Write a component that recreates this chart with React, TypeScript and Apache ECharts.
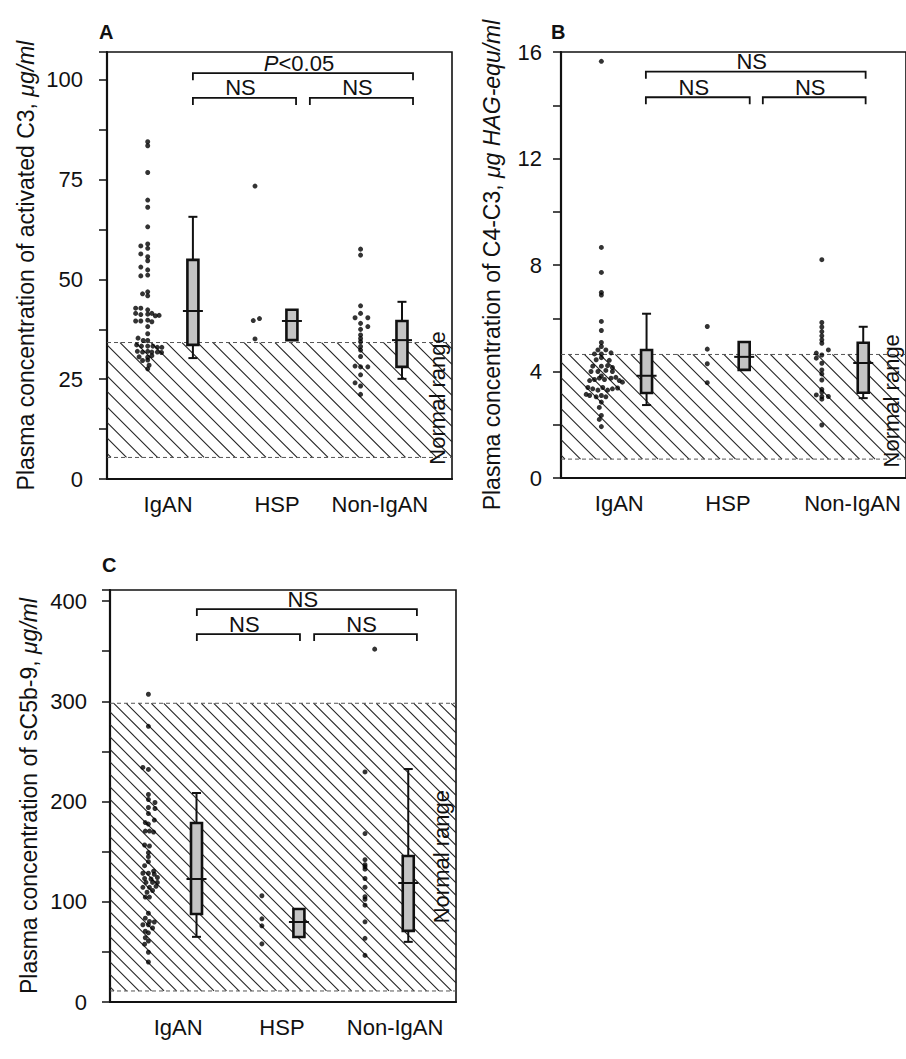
import React, { useEffect, useRef } from "react";
import * as echarts from "echarts";

const FONT = "'Liberation Sans', Arial, Helvetica, sans-serif";
const INK = "#111111";

const groups = ["IgAN", "HSP", "Non-IgAN"];

// ---------- Panel A : activated C3 (µg/ml) ----------
const aDotX = [11.8, 42.9, 73.5];
const aBoxX = [24.9, 53.6, 85.5];
const aLabelX = [17.7, 49.3, 79.1];
const aYLabels = [0, 25, 50, 75, 100];
// [jitter, value]
const aIgAN = [
  [0, 84.5], [0, 83.5], [0, 76.8], [0, 69.9], [0, 68.1], [0, 63.2],
  [-2, 58.4], [0, 58.9], [0, 57.8], [-2, 56.4], [0, 55.7], [0, 54.7],
  [-2, 53.1], [0, 52.4], [0, 51.1], [-2, 50.9],
  [-1.5, 46.4], [0, 46.9], [0, 45.9],
  [-3.5, 42.8], [-2, 42.8], [0, 42.4], [-3.5, 41.5], [-2, 41.2], [0, 41.3], [1.2, 41.5], [2.2, 40.9], [3.3, 41],
  [-3.5, 39.6], [-2, 39.6], [0, 39.8], [1.2, 39.4], [0, 38.2], [0, 36.4],
  [-2.8, 35.3], [-1.3, 34.7], [0, 34.7],
  [-3.2, 33.6], [-1.8, 33.3], [0, 33.3], [1.5, 33.3], [2.8, 33], [4.1, 33],
  [-3, 32], [-1.5, 31.8], [0, 32], [1.2, 31.8], [2.8, 31.8], [4, 31.7],
  [-2.5, 30.6], [0, 30.5], [1.2, 30.9], [-1.5, 29.7], [0, 29.8], [0.4, 28.5], [0, 27.6],
];
const aHSP = [[0, 73.4], [-0.5, 39.7], [1.3, 40.2], [0, 35.1]];
const aNon = [
  [0, 57.6], [0, 56.1], [0, 43.4], [0, 41.5], [-1.6, 40.4], [2.1, 40.4], [0, 39], [2.1, 38.2],
  [0, 37.5], [0, 36.1], [0, 35.2], [0, 34.4], [0, 33.2], [0, 32.3], [0, 30.7], [-1.6, 28.3],
  [0, 28.1], [2.1, 28.1], [0, 26.1], [-1.6, 24.1], [0, 23.3], [0, 21.2],
];
// [low, q1, median, q3, high]
const aBoxes = [
  [30.3, 33.6, 42.1, 54.9, 65.7],
  [34.8, 34.8, 39.6, 42.4, 42.4],
  [25.1, 28.1, 34.8, 39.6, 44.4],
];
const aNormal = [5.4, 34.2, 20.3];
const aBrackets = [[24.9, 54.8, 95.5], [58.8, 88.7, 95.5], [24.9, 88.7, 101.7]];
const aBracketLabels = ["NS", "NS", "{i|P}<0.05"];

// ---------- Panel B : C4-C3 (µg HAG-equ/ml) ----------
const bDotX = [11.7, 42.4, 75.6];
const bBoxX = [24.8, 53.1, 87.6];
const bLabelX = [16.9, 48.4, 84.5];
const bYLabels = [0, 4, 8, 12, 16];
const bIgAN = [
  [0, 15.65], [0, 8.66], [0, 7.72], [0, 6.97], [0, 6.87], [0, 5.88], [0, 5.54], [0, 5.09], [0, 4.94],
  [-1, 4.81], [1.3, 4.81], [-2, 4.66], [0, 4.66], [2.8, 4.7], [0, 4.52], [-1.5, 4.44], [2.3, 4.42],
  [-2.5, 4.2], [0, 4.2], [1.8, 4.22], [3.2, 4.15],
  [-3, 4.0], [-1, 4.0], [1.3, 4.04], [3.2, 4.0], [0, 3.83],
  [-3.4, 3.66], [-2, 3.7], [-0.6, 3.75], [0.9, 3.7], [2.8, 3.75], [4.2, 3.78], [5.2, 3.66], [6.1, 3.6],
  [-3.9, 3.4], [-2.5, 3.35], [-1, 3.3], [0.4, 3.4], [1.8, 3.3], [3.2, 3.35], [4.7, 3.38],
  [-4.4, 3.14], [-3.4, 3.1], [-1.5, 3.05], [0, 3.1], [1.3, 3.05],
  [0, 2.85], [-0.6, 2.65], [0, 2.35], [-0.6, 2.2], [0, 1.93],
];
const bHSP = [[0, 5.69], [0, 4.84], [0, 4.29], [0, 3.58]];
const bNon = [
  [0, 8.2], [0, 5.84], [0, 5.67], [0, 5.5], [0, 5.34], [0, 5.19], [0, 5.06], [1.9, 4.81],
  [-1.6, 4.69], [0, 4.62], [-1.6, 4.5], [0, 4.31], [0, 4.06], [0, 3.91], [0, 3.68], [0, 3.33],
  [0, 3.23], [-1.6, 3.12], [0, 3.06], [1.9, 3.06], [0, 2.96], [0, 1.99],
];
const bBoxes = [
  [2.74, 3.19, 3.84, 4.81, 6.17],
  [4.06, 4.06, 4.55, 5.11, 5.11],
  [3.0, 3.2, 4.32, 5.08, 5.68],
];
const bNormal = [0.71, 4.64, 2.9];
const bBrackets = [[24.6, 54.7, 14.3], [58.5, 88.3, 14.3], [24.6, 88.3, 15.26]];
const bBracketLabels = ["NS", "NS", "NS"];

// ---------- Panel C : sC5b-9 (µg/ml) ----------
const cDotX = [11.1, 43.9, 73.7];
const cBoxX = [25.0, 54.6, 86.2];
const cLabelX = [19.7, 49.7, 82.4];
const cYLabels = [0, 100, 200, 300, 400];
const cIgAN = [
  [0, 307], [0, 275], [-1.6, 234], [0, 232], [0, 207], [0, 202], [1.9, 199], [1.9, 193], [0, 194],
  [0, 188], [1.7, 181.5], [-0.9, 179], [0, 177.5], [-0.9, 170.5], [0.3, 170.5], [1.5, 169.5],
  [-1.1, 156.6], [0.3, 155.6], [0, 149], [0, 145], [0, 140], [-1.1, 136], [1.5, 130.6],
  [-1.6, 128.4], [0, 128.4], [1.7, 127.4], [-1.1, 123.2], [0.75, 122.7], [2.6, 124.2],
  [-0.7, 119.3], [1.2, 119.3], [2.6, 119.3], [-1.6, 114.4], [0.3, 114.4], [2.2, 115.4],
  [-0.4, 109.5], [1.2, 111.2], [-0.9, 104.7], [0.3, 104.7], [0, 88.5], [-0.9, 83.6],
  [0.3, 80.4], [1.7, 79.8], [-1.6, 77.1], [0, 77.1], [1.2, 73.8], [-0.9, 70.6], [0, 69],
  [-0.9, 64.1], [0, 60.8], [-1.1, 57.7], [0, 49.6], [0, 39.9],
];
const cHSP = [[0, 106], [0, 83], [0, 76], [0, 58]];
const cNon = [
  [2.8, 352], [0, 229.5], [0, 168], [0, 142], [0, 137], [0, 135], [0, 132.5], [0, 123.2],
  [0, 114.5], [0, 105], [0, 102.5], [0, 96.6], [0, 80], [0, 63.5], [0, 46.5],
];
const cBoxes = [
  [65, 87.8, 122.7, 178.5, 208.5],
  [64.8, 64.8, 79.8, 92.8, 92.8],
  [60, 71, 118.7, 145.6, 232.4],
];
const cNormal = [11, 298, 145];
const cBrackets = [[25.1, 54.9, 367], [59.0, 88.7, 367], [25.1, 88.7, 392]];
const cBracketLabels = ["NS", "NS", "NS"];

const panels = [
  {
    letter: "A", grid: { left: 107, top: 52, width: 345, height: 427 },
    yMax: 107, yInterval: 12.5, yLabels: aYLabels, labelMargin: 24, nameGap: 70,
    title: "Plasma concentration of activated C3, ", unit: "μg/ml",
    dotX: aDotX, boxX: aBoxX, labelX: aLabelX, dots: [aIgAN, aHSP, aNon], boxes: aBoxes,
    normal: aNormal, brackets: aBrackets, bracketLabels: aBracketLabels, hatchGap: 15.5,
    letterPos: [99, 22],
  },
  {
    letter: "B", grid: { left: 561, top: 52, width: 349, height: 426 },
    yMax: 16, yInterval: 2, yLabels: bYLabels, labelMargin: 19, nameGap: 58,
    title: "Plasma concentration of C4-C3, ", unit: "μg HAG-equ/ml",
    dotX: bDotX, boxX: bBoxX, labelX: bLabelX, dots: [bIgAN, bHSP, bNon], boxes: bBoxes,
    normal: bNormal, brackets: bBrackets, bracketLabels: bBracketLabels, hatchGap: 15.5,
    letterPos: [551, 22],
  },
  {
    letter: "C", grid: { left: 110, top: 590, width: 346, height: 412 },
    yMax: 411, yInterval: 50, yLabels: cYLabels, labelMargin: 23, nameGap: 70,
    title: "Plasma concentration of sC5b-9, ", unit: "μg/ml",
    dotX: cDotX, boxX: cBoxX, labelX: cLabelX, dots: [cIgAN, cHSP, cNon], boxes: cBoxes,
    normal: cNormal, brackets: cBrackets, bracketLabels: cBracketLabels, hatchGap: 12.5,
    letterPos: [102, 555],
  },
];

function buildOption() {
  const grid: any[] = [];
  const xAxis: any[] = [];
  const yAxis: any[] = [];
  const series: any[] = [];
  const graphic: any[] = [];

  panels.forEach((p, i) => {
    grid.push({
      left: p.grid.left, top: p.grid.top, width: p.grid.width, height: p.grid.height,
      show: true, borderColor: INK, borderWidth: 1.6, backgroundColor: "transparent",
      containLabel: false,
    });
    const labelX = p.labelX;
    xAxis.push({
      type: "value", gridIndex: i, min: 0, max: 100,
      axisLine: { show: true, onZero: false, lineStyle: { color: INK, width: 2.2 } },
      axisTick: { show: false },
      splitLine: { show: false },
      axisLabel: {
        customValues: labelX,
        formatter: (v: number) => {
          let best = 0;
          labelX.forEach((lx, k) => { if (Math.abs(lx - v) < Math.abs(labelX[best] - v)) best = k; });
          return groups[best];
        },
        fontSize: 22, color: INK, fontFamily: FONT, margin: 14,
      },
    });
    const yl = p.yLabels;
    yAxis.push({
      type: "value", gridIndex: i, min: 0, max: p.yMax, interval: p.yInterval,
      axisLine: { show: true, onZero: false, lineStyle: { color: INK, width: 2.2 } },
      axisTick: { show: true, length: 8, lineStyle: { color: INK, width: 1.5 } },
      splitLine: { show: false },
      axisLabel: {
        formatter: (v: number) => (yl.indexOf(v) >= 0 ? String(v) : ""),
        fontSize: 22, color: INK, fontFamily: FONT, margin: p.labelMargin,
      },
      name: `{n|${p.title}}{i|${p.unit}}`,
      nameLocation: "middle",
      nameGap: p.nameGap,
      nameTextStyle: {
        fontSize: 23, fontFamily: FONT, color: INK,
        rich: {
          n: { fontSize: 23, fontFamily: FONT, color: INK },
          i: { fontSize: 23, fontFamily: FONT, color: INK, fontStyle: "italic" },
        },
      },
    });

    // hatched normal range
    const gap = p.hatchGap;
    series.push({
      type: "custom", xAxisIndex: i, yAxisIndex: i, z: 1, silent: true, clip: false,
      encode: { x: 0, y: [1, 2] },
      data: [[0, p.normal[0], p.normal[1], p.normal[2]]],
      renderItem: (params: any, api: any) => {
        const cs = params.coordSys;
        const lo = api.value(1), hi = api.value(2), ty = api.value(3);
        const yT = api.coord([0, hi])[1];
        const yB = api.coord([0, lo])[1];
        const xL = cs.x, xR = cs.x + cs.width;
        const h = yB - yT;
        const k = 1.0;
        const span = h / k;
        const children: any[] = [];
        for (let x0 = xL - span + 4; x0 < xR; x0 += gap) {
          const sx = Math.max(x0, xL);
          const ex = Math.min(x0 + span, xR);
          if (ex > sx) {
            children.push({
              type: "line",
              shape: { x1: sx, y1: yT + k * (sx - x0), x2: ex, y2: yT + k * (ex - x0) },
              style: { stroke: "#222", lineWidth: 1.1 },
            });
          }
        }
        [yT, yB].forEach((yy) => {
          children.push({
            type: "line",
            shape: { x1: xL, y1: yy, x2: xR, y2: yy },
            style: { stroke: "#555", lineWidth: 1, lineDash: [4, 3] },
          });
        });
        children.push({
          type: "text",
          x: xR - 15,
          y: api.coord([0, ty])[1],
          rotation: Math.PI / 2,
          style: {
            text: "Normal range", fontSize: 22, fontFamily: FONT, fill: INK,
            align: "center", verticalAlign: "middle",
          },
        });
        return { type: "group", children };
      },
    });

    // individual values
    const scatterData: number[][] = [];
    p.dots.forEach((list, g) => {
      list.forEach((d) => scatterData.push([p.dotX[g] + d[0], d[1]]));
    });
    series.push({
      type: "scatter", xAxisIndex: i, yAxisIndex: i, z: 3, silent: true,
      symbol: "circle", symbolSize: 5,
      itemStyle: { color: "#000" },
      data: scatterData,
    });

    // box plots
    series.push({
      type: "custom", xAxisIndex: i, yAxisIndex: i, z: 4, silent: true, clip: false,
      encode: { x: 0, y: [1, 2, 3, 4, 5] },
      data: p.boxes.map((b, g) => [p.boxX[g], ...b]),
      renderItem: (params: any, api: any) => {
        const x = api.value(0);
        const lo = api.value(1), q1 = api.value(2), md = api.value(3), q3 = api.value(4), hi = api.value(5);
        const cx = api.coord([x, q1])[0];
        const yq1 = api.coord([x, q1])[1];
        const yq3 = api.coord([x, q3])[1];
        const ymd = api.coord([x, md])[1];
        const ylo = api.coord([x, lo])[1];
        const yhi = api.coord([x, hi])[1];
        const w = 11, cap = 9, mw = 20;
        const st = { stroke: INK, lineWidth: 2 };
        const children: any[] = [];
        if (hi > q3) {
          children.push({ type: "line", shape: { x1: cx, y1: yq3, x2: cx, y2: yhi }, style: st });
          children.push({ type: "line", shape: { x1: cx - cap / 2, y1: yhi, x2: cx + cap / 2, y2: yhi }, style: st });
        }
        if (lo < q1) {
          children.push({ type: "line", shape: { x1: cx, y1: yq1, x2: cx, y2: ylo }, style: st });
          children.push({ type: "line", shape: { x1: cx - cap / 2, y1: ylo, x2: cx + cap / 2, y2: ylo }, style: st });
        }
        children.push({
          type: "rect",
          shape: { x: cx - w / 2, y: yq3, width: w, height: yq1 - yq3 },
          style: { fill: "#c4c4c4", stroke: INK, lineWidth: 2.6 },
        });
        children.push({ type: "line", shape: { x1: cx - mw / 2, y1: ymd, x2: cx + mw / 2, y2: ymd }, style: { stroke: INK, lineWidth: 2 } });
        return { type: "group", children };
      },
    });

    // significance brackets
    const bl = p.bracketLabels;
    series.push({
      type: "custom", xAxisIndex: i, yAxisIndex: i, z: 4, silent: true, clip: false,
      encode: { x: [0, 1], y: 2 },
      data: p.brackets,
      renderItem: (params: any, api: any) => {
        const x1 = api.value(0), x2 = api.value(1), y = api.value(2);
        const a = api.coord([x1, y]);
        const b = api.coord([x2, y]);
        return {
          type: "group",
          children: [
            {
              type: "polyline",
              shape: { points: [[a[0], a[1] + 7], [a[0], a[1]], [b[0], b[1]], [b[0], b[1] + 7]] },
              style: { stroke: INK, lineWidth: 1.8, fill: "none" },
            },
            {
              type: "text",
              x: (a[0] + b[0]) / 2 - 4,
              y: a[1] + 1,
              style: {
                text: bl[params.dataIndex], fontSize: 22, fontFamily: FONT, fill: INK,
                align: "center", verticalAlign: "bottom",
                rich: { i: { fontStyle: "italic", fontSize: 22, fontFamily: FONT, fill: INK } },
              },
            },
          ],
        };
      },
    });

    graphic.push({
      type: "text", left: p.letterPos[0], top: p.letterPos[1],
      style: { text: p.letter, fontSize: 20, fontWeight: "bold", fontFamily: FONT, fill: INK },
    });
  });

  return {
    animation: false,
    backgroundColor: "#ffffff",
    grid, xAxis, yAxis, series, graphic,
  };
}

export default function App() {
  const ref = useRef<HTMLDivElement>(null);
  useEffect(() => {
    if (!ref.current) return;
    const chart = echarts.init(ref.current, undefined, { renderer: "svg" });
    chart.setOption(buildOption() as any);
    return () => chart.dispose();
  }, []);
  return (
    <div
      ref={ref}
      style={{ position: "absolute", left: 0, top: 0, width: 906, height: 1059, background: "#fff" }}
    />
  );
}
